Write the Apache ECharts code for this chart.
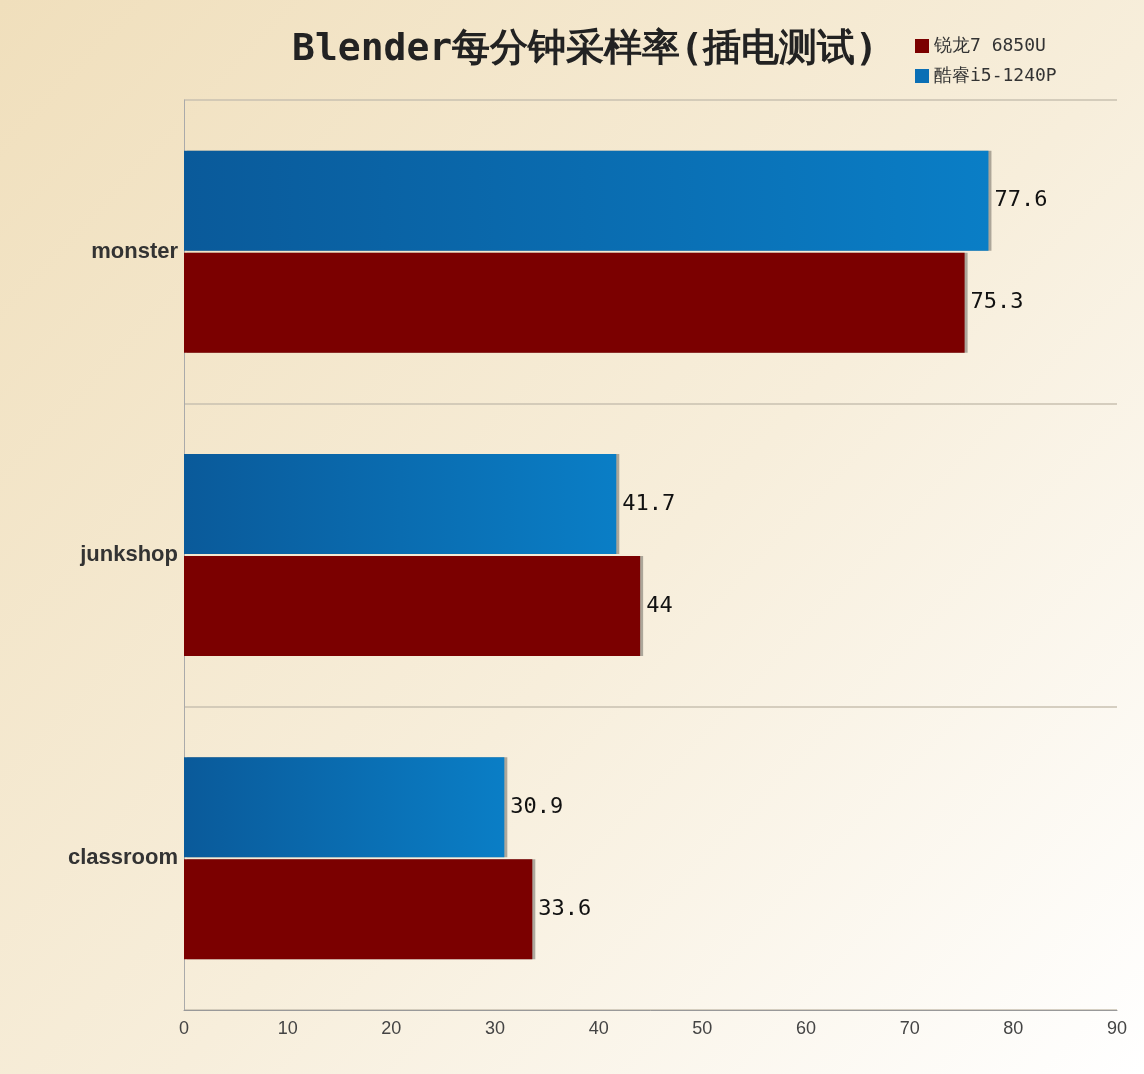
<!DOCTYPE html>
<html><head><meta charset="utf-8">
<script src="https://cdn.jsdelivr.net/npm/echarts@6/dist/echarts.min.js"></script>
<style>html,body{margin:0;padding:0}#c{width:1144px;height:1074px}</style>
</head><body><div id="c"></div>
<script>
const categories = ['monster', 'junkshop', 'classroom'];
const intelValues = [77.6, 41.7, 30.9];
const amdValues = [75.3, 44, 33.6];
const xTicks = [0, 10, 20, 30, 40, 50, 60, 70, 80, 90];
const amdName = '锐龙7 6850U';
const intelName = '酷睿i5-1240P';

const chart = echarts.init(document.getElementById('c'));
const blue = new echarts.graphic.LinearGradient(0,0,1,0,[{offset:0,color:'#0a5a9a'},{offset:1,color:'#0a7ec6'}]);
const lbl = {show:true, position:'right', distance:6, color:'#111', fontSize:22, fontFamily:'DejaVu Sans Mono'};
chart.setOption({
  backgroundColor: new echarts.graphic.LinearGradient(0,0,1,1,[{offset:0,color:'#f0dfbc'},{offset:0.55,color:'#f7eedb'},{offset:1,color:'#ffffff'}]),
  title:{text:'Blender每分钟采样率(插电测试)', left:287, top:26, textStyle:{fontSize:38, fontWeight:'bold', color:'#222', fontFamily:'DejaVu Sans Mono'}},
  legend:{data:[{name:amdName,itemStyle:{color:'#7b0000'}},{name:intelName,itemStyle:{color:'#0a6fb5'}}], orient:'vertical', left:910, top:32, itemWidth:14, itemHeight:14, itemGap:12, icon:'rect',
    textStyle:{fontSize:18, color:'#333', fontFamily:'DejaVu Sans Mono'}},
  grid:{left:184, right:27, top:100, bottom:64},
  xAxis:{type:'value', min:0, max:90, interval:10,
    axisLine:{show:true, lineStyle:{color:'#999'}}, axisTick:{show:false}, splitLine:{show:false},
    axisLabel:{color:'#444', fontSize:18, margin:10, formatter:v=>xTicks.includes(v)?String(v):''}},
  yAxis:{type:'category', data:categories, inverse:true,
    axisLine:{show:true, lineStyle:{color:'#aaa'}}, axisTick:{show:false},
    splitLine:{show:true, lineStyle:{color:'#c8c0b0', width:1.5}},
    axisLabel:{color:'#333', fontSize:22, fontWeight:'bold', margin:6}},
  series:[
    {name:intelName, type:'bar', data:intelValues, barWidth:100, barGap:'2%', itemStyle:{color:blue, shadowColor:'rgba(0,0,0,0.3)', shadowOffsetX:3}, label:lbl},
    {name:amdName, type:'bar', data:amdValues, barWidth:100, itemStyle:{color:'#7b0000', shadowColor:'rgba(0,0,0,0.3)', shadowOffsetX:3}, label:lbl}
  ]
});
</script></body></html>
